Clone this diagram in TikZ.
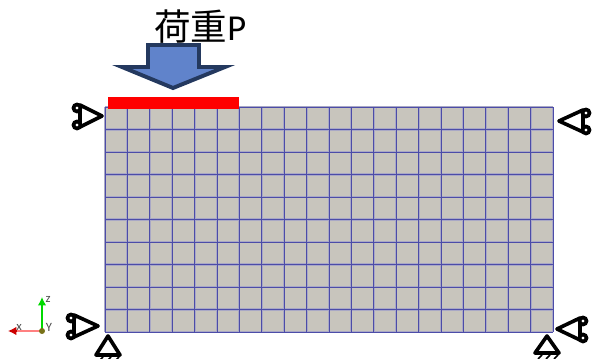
\documentclass[tikz,border=0pt]{standalone}
\usepackage{fontspec}
\setmainfont{Carlito}
\newfontfamily\cjk{Noto Sans CJK JP}
\usetikzlibrary{arrows.meta}
\definecolor{meshfill}{HTML}{C8C5BD}
\definecolor{meshline}{HTML}{4C4CA8}
\definecolor{meshglow}{HTML}{A9A8C6}
\definecolor{loadfill}{HTML}{6083CB}
\definecolor{loadline}{HTML}{24395F}
\tikzset{
    support/.style={draw=black, line width=2.6pt, line join=round, fill=white},
    hinge/.style={draw=black, line width=2.6pt, fill=white},
    triadtext/.style={font=\small, inner sep=0pt, text=black!70}
}
\begin{document}
\begin{tikzpicture}[x=0.025cm, y=-0.025cm]
    \useasboundingbox (0, 0) rectangle (592, 359);

    % Mesh (20 x 10 cells)
    \fill[meshfill] (105, 107) rectangle (553, 332);
    \foreach \i in {0,...,20} {
        \draw[meshglow, line width=1.5pt] (105+22.4*\i, 107) -- (105+22.4*\i, 332);
    }
    \foreach \j in {0,...,10} {
        \draw[meshglow, line width=1.5pt] (105, 107+22.5*\j) -- (553, 107+22.5*\j);
    }
    \foreach \i in {0,...,20} {
        \draw[meshline, line width=0.7pt] (105+22.4*\i, 107) -- (105+22.4*\i, 332);
    }
    \foreach \j in {0,...,10} {
        \draw[meshline, line width=0.7pt] (105, 107+22.5*\j) -- (553, 107+22.5*\j);
    }

    % Load
    \fill[red] (108, 97) rectangle (239, 109);
    \draw[draw=loadline, fill=loadfill, line width=2.8pt, miter limit=20]
        (148, 45) -- (199, 45) -- (199, 67) -- (225, 67) -- (173, 88)
        -- (122, 67) -- (148, 67) -- cycle;
    \node[font=\fontsize{26}{26}\selectfont, anchor=base west, inner sep=0pt] (loadlabel)
        at (154, 41) {{\cjk 荷重}P};

    % Side supports: apex x, apex y, base x, hinge x
    \foreach \ax/\ay/\bx/\cx in {102/116/80/77, 98/326/74/71, 559/121/583/586, 557/329/580/583} {
        \draw[support] (\ax, \ay) -- (\bx, \ay-11) -- (\bx, \ay+11) -- cycle;
        \draw[hinge] (\cx, \ay-8) circle[radius=3.5];
        \draw[hinge] (\cx, \ay+9) circle[radius=3.5];
    }

    % Bottom supports
    \foreach \ax/\by in {108/355, 547/353} {
        \draw[support] (\ax, 336) -- (\ax-12, \by) -- (\ax+12, \by) -- cycle;
        \foreach \s in {-9, -1, 7} {
            \draw[line width=1.1pt] (\ax+\s, \by+6) -- (\ax+\s+4, \by+2);
        }
    }

    % Triad
    \draw[green!85!black, line width=0.9pt, -{Latex[length=6pt, width=6pt]}] (42, 331) -- (42, 297);
    \draw[red!50!white, line width=1pt] (42, 331) -- (14, 331);
    \draw[red!80!black, line width=0.8pt, -{Latex[length=6pt, width=6pt]}] (16, 331) -- (8, 331);
    \fill[olive!80!black] (42, 331) circle[radius=3];
    \node[triadtext] (zlabel) at (48, 299) {z};
    \node[triadtext] (xlabel) at (19, 327) {x};
    \node[triadtext] (ylabel) at (49, 327) {Y};
\end{tikzpicture}
\end{document}
